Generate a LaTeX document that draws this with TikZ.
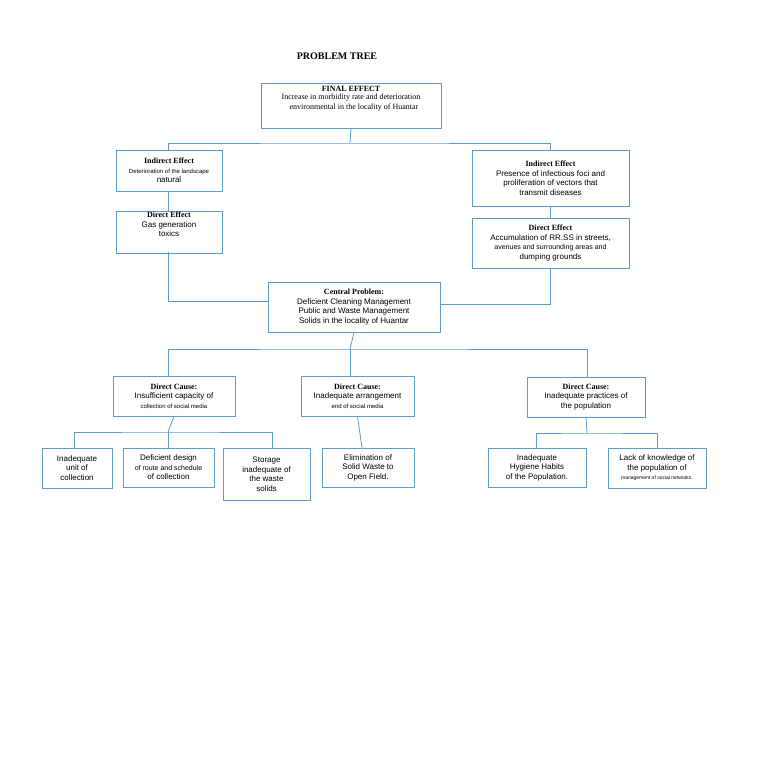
\documentclass[tikz,border=0pt]{standalone}
\usepackage{fontspec}
\setmainfont{Liberation Serif}
\newfontfamily\arial{Liberation Sans}
\definecolor{bx}{HTML}{5B9BD5}
\begin{document}
\begin{tikzpicture}[x=1pt,y=-1pt,
 box/.style={draw=bx,line width=0.8pt,inner sep=1pt,font=\arial\fontsize{8}{9.5}\selectfont,align=center},
 ln/.style={draw=bx,line width=0.8pt},
 hd/.style={font=\bfseries\fontsize{8.5}{10}\selectfont}]
\useasboundingbox (0,0) rectangle (768,761);
\node[font=\bfseries\fontsize{10}{12}\selectfont] (title) at (337,56) {PROBLEM TREE};
\newcommand{\bx}[6]{\node[box,minimum width=#4-#2,minimum height=#5-#3] (#1) at ({(#2+#4)/2},{(#3+#5)/2}) {#6};}
\bx{fe}{261}{83}{441}{128}{{\bfseries\rmfamily FINAL EFFECT}\\[-1pt]{\rmfamily Increase in morbidity rate and deterioration}\\{\rmfamily\ \ \ environmental in the locality of Huantar}\\[6pt]}
\bx{iel}{116}{150}{222}{191}{{\rmfamily\bfseries Indirect Effect}\\{\fontsize{6}{7}\selectfont Deterioration of the landscape}\\natural}
\bx{ier}{472}{150}{629}{206}{{\rmfamily\bfseries Indirect Effect}\\Presence of infectious foci and\\proliferation of vectors that\\transmit diseases\hspace{44pt}}
\bx{del}{116}{212}{222}{252}{{\rmfamily\bfseries Direct Effect}\\Gas generation\hspace{10pt}\\toxics\\[6pt]}
\bx{der}{472}{218}{629}{268}{{\rmfamily\bfseries Direct Effect}\\Accumulation of RR.SS in streets,\\{\fontsize{7}{8.5}\selectfont avenues and surrounding areas and}\\dumping grounds\hspace{60pt}}
\bx{cp}{268}{282}{440}{332}{{\rmfamily\bfseries Central Problem:}\\Deficient Cleaning Management\\Public and Waste Management\\Solids in the locality of Huantar}
\bx{dc1}{113}{376}{235}{416}{{\rmfamily\bfseries Direct Cause:}\\Insufficient capacity of\\{\fontsize{6}{7.5}\selectfont collection of social media}}
\bx{dc2}{301}{376}{414}{416}{{\rmfamily\bfseries Direct Cause:}\\Inadequate arrangement\\{\fontsize{6}{7.5}\selectfont end of social media}}
\bx{dc3}{527}{377}{645}{417}{{\rmfamily\bfseries Direct Cause:}\\Inadequate practices of\\the population}
\bx{l1}{42}{448}{112}{488}{Inadequate\\unit of\\collection}
\bx{l2}{123}{448}{214}{487}{Deficient design\\{\fontsize{7}{8.5}\selectfont of route and schedule}\\of collection}
\bx{l3}{223}{448}{310}{500}{Storage\hspace{20pt}\\inadequate of\\the waste\\solids}
\bx{l4}{322}{448}{414}{487}{Elimination of\\Solid Waste to\\Open Field.}
\bx{l5}{488}{448}{586}{487}{Inadequate\\Hygiene Habits\\of the Population.}
\bx{l6}{608}{448}{706}{488}{Lack of knowledge of\\the population of\\{\fontsize{5}{6}\selectfont management of social networks.}}
\draw[ln] (fe.south) -- (350,143) coordinate (j1);
\draw[ln] (168,150) |- (j1) -| (550,150);
\draw[ln] (168,191) -- (168,212);
\draw[ln] (550,206) -- (550,218);
\draw[ln] (168,252) |- (cp.west|-0,301);
\draw[ln] (550,268) |- (cp.east|-0,304);
\draw[ln] (cp.south) -- (350,349) coordinate (j2);
\draw[ln] (168,376) |- (j2) -| (587,377);
\draw[ln] (j2) -- (350,376);
\draw[ln] (dc1.south) -- (168,432) coordinate (j3);
\draw[ln] (74,448) |- (j3) -| (272,448);
\draw[ln] (j3) -- (168,448);
\draw[ln] (dc2.south) -- (362,448);
\draw[ln] (dc3.south) -- (587,433) coordinate (j4);
\draw[ln] (536,448) |- (j4) -| (657,448);
\end{tikzpicture}
\end{document}
